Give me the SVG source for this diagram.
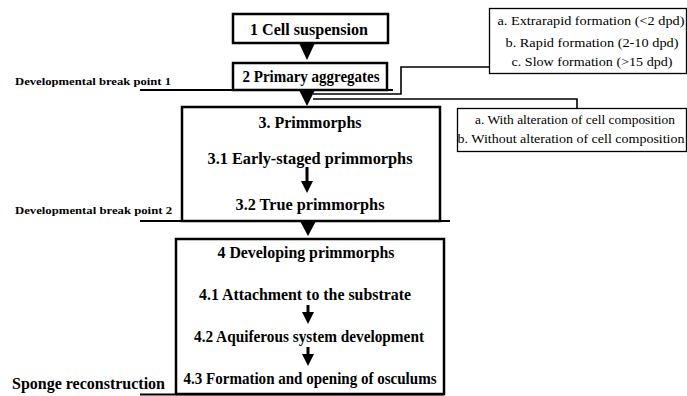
<svg xmlns="http://www.w3.org/2000/svg" width="687" height="396" viewBox="0 0 687 396">
<style>
.box{fill:#fff;stroke:#000;stroke-width:2.5}
.sbox{fill:#fff;stroke:#000;stroke-width:1.3}
.ln{fill:none;stroke:#000;stroke-width:2}
.tl{fill:none;stroke:#000;stroke-width:1.6}
.t{font-weight:bold;font-size:16px;text-anchor:middle}
.s{font-size:13px;text-anchor:middle}
.bp{font-weight:bold;font-size:10px}
.tri{fill:#000}
.ar{stroke:#000;stroke-width:3}
</style>
<defs>
<marker id="ah" markerWidth="4" markerHeight="4" refX="2" refY="2" orient="auto" markerUnits="strokeWidth"><path d="M0,0 L4,2 L0,4 Z" fill="#000"/></marker>
</defs>
<g font-family="Liberation Serif, Times New Roman, Tinos, serif" fill="#000">
<g id="node1">
<rect class="box" x="233" y="14" width="155" height="29"/>
<text class="t" x="309" y="35" textLength="118" lengthAdjust="spacingAndGlyphs">1 Cell suspension</text>
</g>
<g id="node2">
<rect class="box" x="233" y="63" width="154" height="27"/>
<text class="t" x="311" y="82" textLength="137" lengthAdjust="spacingAndGlyphs">2 Primary aggregates</text>
</g>
<g id="node3">
<rect class="box" x="182" y="107" width="258" height="114"/>
<text class="t" x="310" y="128" textLength="103" lengthAdjust="spacingAndGlyphs">3. Primmorphs</text>
<text class="t" x="310" y="164" textLength="205" lengthAdjust="spacingAndGlyphs">3.1 Early-staged  primmorphs</text>
<text class="t" x="310" y="210" textLength="149" lengthAdjust="spacingAndGlyphs">3.2 True primmorphs</text>
</g>
<g id="node4">
<rect class="box" x="176" y="239" width="268" height="155"/>
<text class="t" x="306" y="258" textLength="177" lengthAdjust="spacingAndGlyphs">4 Developing primmorphs</text>
<text class="t" x="305" y="300" textLength="212" lengthAdjust="spacingAndGlyphs">4.1 Attachment to the substrate</text>
<text class="t" x="309" y="342" textLength="230" lengthAdjust="spacingAndGlyphs">4.2 Aquiferous system development</text>
<text class="t" x="310" y="384" textLength="253" lengthAdjust="spacingAndGlyphs">4.3 Formation and opening of osculums</text>
</g>
<g id="formation-types">
<rect class="sbox" x="489.5" y="8.5" width="197" height="65"/>
<text class="s" x="591" y="25" textLength="187" lengthAdjust="spacingAndGlyphs">a. Extrarapid formation (&lt;2 dpd)</text>
<text class="s" x="592" y="47" textLength="173" lengthAdjust="spacingAndGlyphs">b. Rapid formation (2-10 dpd)</text>
<text class="s" x="592" y="66" textLength="161" lengthAdjust="spacingAndGlyphs">c. Slow formation (&gt;15 dpd)</text>
</g>
<g id="composition-types">
<rect class="sbox" x="457.5" y="108.5" width="229" height="43"/>
<text class="s" x="575" y="124" textLength="200" lengthAdjust="spacingAndGlyphs">a. With alteration of cell composition</text>
<text class="s" x="571" y="143" textLength="227" lengthAdjust="spacingAndGlyphs">b. Without alteration of cell composition</text>
</g>
<g id="breakpoint1">
<line class="ln" x1="140" y1="90" x2="393" y2="90"/>
<text class="bp" x="15" y="85" textLength="156" lengthAdjust="spacingAndGlyphs">Developmental break point 1</text>
</g>
<g id="breakpoint2">
<line class="ln" x1="140" y1="221" x2="450" y2="221"/>
<text class="bp" x="15" y="214" textLength="157" lengthAdjust="spacingAndGlyphs">Developmental break point 2</text>
</g>
<g id="sponge-reconstruction">
<line class="ln" x1="140" y1="394.5" x2="444" y2="394.5"/>
<text class="t" x="12" y="389" style="text-anchor:start" textLength="153" lengthAdjust="spacingAndGlyphs">Sponge reconstruction</text>
</g>
</g>
<g id="connectors">
<polygon class="tri" points="299,43 315,43 307,60"/>
<polygon class="tri" points="299,90 315,90 307,106"/>
<polygon class="tri" points="300,221 316,221 308,236"/>
<polyline class="tl" points="313,94 401,94 401,67 489,67"/>
<polyline class="tl" points="313,99 577,99 577,108"/>
<line class="ar" x1="307" y1="167" x2="307" y2="187" marker-end="url(#ah)"/>
<line class="ar" x1="308" y1="305" x2="308" y2="318" marker-end="url(#ah)"/>
<line class="ar" x1="308" y1="347" x2="308" y2="360" marker-end="url(#ah)"/>
</g>
</svg>
